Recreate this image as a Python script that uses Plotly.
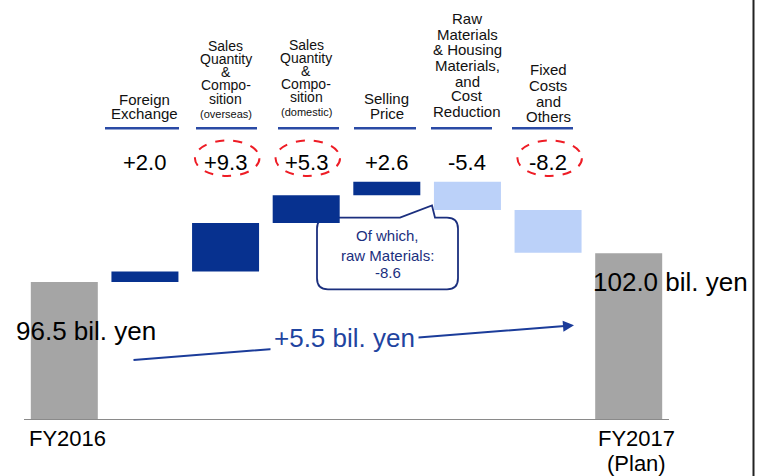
import plotly.graph_objects as go

# ---------------- data ----------------
categories = ["FY2016", "Foreign Exchange", "Sales Quantity & Composition (overseas)",
              "Sales Quantity & Composition (domestic)", "Selling Price",
              "Raw Materials & Housing Materials, and Cost Reduction",
              "Fixed Costs and Others", "FY2017 (Plan)"]
start_value = 96.5
end_value = 102.0
changes = [2.0, 9.3, 5.3, 2.6, -5.4, -8.2]
change_labels = ["+2.0", "+9.3", "+5.3", "+2.6", "-5.4", "-8.2"]
highlighted = [False, True, True, False, False, True]
header_lines = [
    ["Foreign", "Exchange"],
    ["Sales", "Quantity", "&", "Compo-", "sition", "(overseas)"],
    ["Sales", "Quantity", "&", "Compo-", "sition", "(domestic)"],
    ["Selling", "Price"],
    ["Raw", "Materials", "& Housing", "Materials,", "and", "Cost", "Reduction"],
    ["Fixed", "Costs", "and", "Others"],
]
note_lines = ["Of which,", "raw Materials:", "-8.6"]
start_label = "96.5 bil. yen"
end_label = "102.0 bil. yen"
diff_label = "+5.5 bil. yen"
x_labels_start = ["FY2016"]
x_labels_end = ["FY2017", "(Plan)"]

# ---------------- styling / layout ----------------
W, H = 762, 476
PL, PR, PT, PB = 24, 669, 0, 419   # plot area in pixels
FONT = "Liberation Sans, Arial, sans-serif"
DARK = "#07318F"
LIGHT = "#BBD1F9"
GREY = "#A5A5A5"
NAVY = "#1B2F7E"
ARROW = "#1B3C9A"

def px(x):
    return (x - PL) / (PR - PL)

def py(y):
    return (PB - y) / (PB - PT)

# waterfall geometry from the data
xs, bases, heights, colors = [0], [0], [start_value], [GREY]
running = start_value
for i, c in enumerate(changes):
    xs.append(i + 1)
    bases.append(running if c >= 0 else running + c)
    heights.append(abs(c))
    colors.append(DARK if c >= 0 else LIGHT)
    running += c
xs.append(len(categories) - 1)
bases.append(0)
heights.append(end_value)
colors.append(GREY)

fig = go.Figure()
fig.add_trace(go.Bar(x=xs, y=heights, base=bases, marker=dict(color=colors, line=dict(width=0)),
                     hoverinfo="skip", showlegend=False))

annotations = []
shapes = []

# header label lines (centre y in px)
header_y = [
    [99, 113.5],
    [46, 59, 72, 85.5, 98.5, 114],
    [44.5, 57.5, 70.5, 84, 97, 112.5],
    [98.5, 113.5],
    [18.5, 34, 49.5, 65.5, 81, 96, 111.5],
    [69.5, 85.5, 101, 116.5],
]
for ci, lines in enumerate(header_lines):
    for li, t in enumerate(lines):
        fs = 15
        if ci in (1, 2):
            fs = 11 if t.startswith("(") else 14
        annotations.append(dict(x=ci + 1, xref="x", y=py(header_y[ci][li]), yref="paper",
                                text=t, showarrow=False, xanchor="center", yanchor="middle",
                                borderpad=0,
                                font=dict(family=FONT, size=fs, color="#111")))

# underlines
underlines = [(105, 179), (196, 257), (278, 339), (354, 416), (431, 492), (512, 573)]
for x0, x1 in underlines:
    shapes.append(dict(type="line", xref="paper", yref="paper", x0=px(x0), x1=px(x1),
                       y0=py(128.3), y1=py(128.3), line=dict(color="#2A4AA5", width=2.5)))

# change values + red dashed ellipses
for i, (lab, hl) in enumerate(zip(change_labels, highlighted)):
    annotations.append(dict(x=i + 1, xref="x", y=py(162.5), yref="paper", text=lab,
                            showarrow=False, xanchor="center", yanchor="middle",
                            font=dict(family=FONT, size=22, color="#000")))
    if hl:
        shapes.append(dict(type="circle", xref="x", yref="paper", x0=i + 1 - 0.38, x1=i + 1 + 0.42,
                           y0=py(176), y1=py(140.5),
                           line=dict(color="#EE1C25", width=2, dash="dash")))

# callout box
bx0, bx1, by0, by1, r = 317, 458, 217.7, 289.3, 11

def P(x, y):
    return f"{px(x):.5f},{py(y):.5f}"

path = (f"M{P(bx0 + r, by0)} L{P(400, by0)} L{P(432, 205.5)} L{P(435, by0)} L{P(bx1 - r, by0)} "
        f"Q{P(bx1, by0)} {P(bx1, by0 + r)} L{P(bx1, by1 - r)} Q{P(bx1, by1)} {P(bx1 - r, by1)} "
        f"L{P(bx0 + r, by1)} Q{P(bx0, by1)} {P(bx0, by1 - r)} L{P(bx0, by0 + r)} "
        f"Q{P(bx0, by0)} {P(bx0 + r, by0)} Z")
shapes.append(dict(type="path", xref="paper", yref="paper", path=path, layer="below",
                   fillcolor="white", line=dict(color=NAVY, width=1.8)))
for t, yy in zip(note_lines, [236, 255.5, 272]):
    annotations.append(dict(x=px(387.5), xref="paper", y=py(yy), yref="paper", text=t,
                            showarrow=False, xanchor="center", yanchor="middle", borderpad=0,
                            font=dict(family=FONT, size=15, color=NAVY)))

# growth arrow and label
annotations.append(dict(x=px(574), xref="paper", y=py(325.3), yref="paper", text="",
                        showarrow=True, ax=132 - 574, ay=360 - 325.3, arrowhead=2,
                        arrowsize=1.1, arrowwidth=2, arrowcolor=ARROW, standoff=0))
annotations.append(dict(x=px(344), xref="paper", y=py(338), yref="paper", text=diff_label,
                        showarrow=False, xanchor="center", yanchor="middle", bgcolor="white",
                        borderpad=3, font=dict(family=FONT, size=26, color="#1F44A0")))

# total labels
annotations.append(dict(x=px(86), xref="paper", y=py(331), yref="paper", text=start_label,
                        showarrow=False, xanchor="center", yanchor="middle",
                        font=dict(family=FONT, size=26, color="#000")))
annotations.append(dict(x=px(670.7), xref="paper", y=py(282.3), yref="paper", text=end_label,
                        showarrow=False, xanchor="center", yanchor="middle",
                        font=dict(family=FONT, size=26, color="#000")))

# x labels
for t, yy in zip(x_labels_start, [438.3]):
    annotations.append(dict(x=px(67), xref="paper", y=py(yy), yref="paper", text=t,
                            showarrow=False, xanchor="center", yanchor="middle",
                            font=dict(family=FONT, size=22, color="#000")))
for t, yy in zip(x_labels_end, [438.3, 463.5]):
    annotations.append(dict(x=px(636.5), xref="paper", y=py(yy), yref="paper", text=t,
                            showarrow=False, xanchor="center", yanchor="middle",
                            font=dict(family=FONT, size=22, color="#000")))

# right border line
shapes.append(dict(type="line", xref="paper", yref="paper", x0=px(753.5), x1=px(753.5),
                   y0=py(476), y1=py(0), line=dict(color="#222", width=2)))

scale = 5.22  # px per unit
fig.update_layout(
    width=W, height=H,
    margin=dict(l=PL, r=W - PR, t=PT, b=H - PB, pad=0),
    paper_bgcolor="white", plot_bgcolor="white",
    bargap=0.169,
    xaxis=dict(range=[-0.5, len(categories) - 0.5], showticklabels=False, showgrid=False,
               zeroline=False, showline=True, linecolor="#8a8a8a", linewidth=1, fixedrange=True),
    yaxis=dict(range=[start_value - (PB - 282) / scale, start_value + 282 / scale],
               visible=False, showgrid=False, zeroline=False, fixedrange=True),
    annotations=annotations, shapes=shapes,
    font=dict(family=FONT),
)
fig.write_html("out.html")
